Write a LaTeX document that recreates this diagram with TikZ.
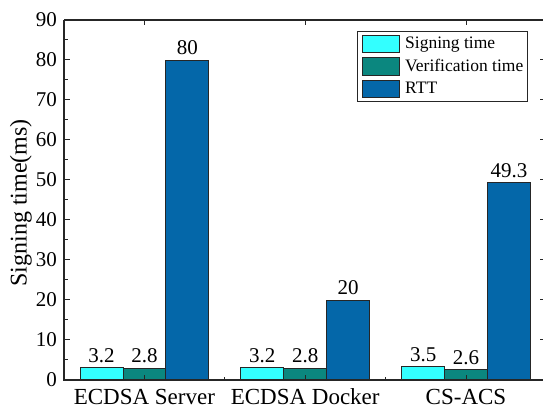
\documentclass[tikz,border=0pt]{standalone}
\usepackage{fontspec}
\setmainfont{Liberation Serif}
\definecolor{sig}{HTML}{33FFFF}
\definecolor{ver}{HTML}{0B877F}
\definecolor{rtt}{HTML}{0467A9}
\begin{document}
\begin{tikzpicture}[x=1pt,y=1pt,
  bar/.style={draw=black!85, line width=0.8pt},
  val/.style={font=\fontsize{21}{21}\selectfont, anchor=base, inner sep=0pt},
  ytl/.style={font=\fontsize{21}{21}\selectfont, anchor=east, inner sep=0pt},
  xtl/.style={font=\fontsize{23}{23}\selectfont, anchor=base, inner sep=0pt},
  legtxt/.style={font=\fontsize{17.5}{17.5}\selectfont, anchor=base west, inner sep=0pt},
  axisline/.style={line width=1.2pt, black!85},
  tickline/.style={line width=1pt, black!85}]
\useasboundingbox (0,0) rectangle (543,409);
\clip (0,0) rectangle (543,409);
% bars group 1
\draw[bar, fill=sig] (80.08,29) rectangle (122.96,41.8);
\draw[bar, fill=ver] (122.96,29) rectangle (165.84,40.2);
\draw[bar, fill=rtt] (165.84,29) rectangle (208.72,349);
% bars group 2
\draw[bar, fill=sig] (240.88,29) rectangle (283.76,41.8);
\draw[bar, fill=ver] (283.76,29) rectangle (326.64,40.2);
\draw[bar, fill=rtt] (326.64,29) rectangle (369.52,109);
% bars group 3
\draw[bar, fill=sig] (401.68,29) rectangle (444.56,43);
\draw[bar, fill=ver] (444.56,29) rectangle (487.44,39.4);
\draw[bar, fill=rtt] (487.44,29) rectangle (530.32,226.2);
% value labels
\node[val] (v11) at (101.52,46.5) {3.2};
\node[val] (v12) at (144.4,46.5) {2.8};
\node[val] (v13) at (187.28,354) {80};
\node[val] (v21) at (262.32,46.5) {3.2};
\node[val] (v22) at (305.2,46.5) {2.8};
\node[val] (v23) at (348.08,114) {20};
\node[val] (v31) at (423.12,47.7) {3.5};
\node[val] (v32) at (466,44.1) {2.6};
\node[val] (v33) at (508.88,231) {49.3};
% frame
\draw[axisline] (64,389) -- (546.4,389);
\draw[axisline] (64,29) -- (64,389);
\draw[axisline] (546.4,29) -- (546.4,389);
\draw[line width=1.6pt, black!85] (63.2,29) -- (546.4,29);
% y ticks and labels
\foreach \v in {0,10,...,90} {
  \draw[tickline] (64,29+4*\v) -- (70,29+4*\v);
  \draw[tickline] (546.4,29+4*\v) -- (540.4,29+4*\v);
  \node[ytl] (yl\v) at (57,29+4*\v) {\v};
}
\foreach \v in {5,15,...,85} {
  \draw[tickline] (64,29+4*\v) -- (67.5,29+4*\v);
  \draw[tickline] (546.4,29+4*\v) -- (542.9,29+4*\v);
}
% x ticks
\foreach \x in {144.4,305.2,466} {
  \draw[tickline] (\x,29) -- (\x,34);
  \draw[tickline] (\x,389) -- (\x,384);
}
\foreach \x in {224.8,385.6} {
  \draw[tickline] (\x,29) -- (\x,32);
}
% x labels
\node[xtl] (x1) at (144.4,4) {ECDSA Server};
\node[xtl] (x2) at (305.2,4) {ECDSA Docker};
\node[xtl] (x3) at (466,4) {CS-ACS};
% y label
\node[font=\fontsize{24}{24}\selectfont, rotate=90, inner sep=0pt] (ylab) at (21,206) {Signing time(ms)};
% legend
\draw[line width=0.8pt, black!85, fill=white] (357,308) rectangle (527,378);
\draw[bar, fill=sig] (362,357) rectangle (399,374);
\draw[bar, fill=ver] (362,334) rectangle (399,351.3);
\draw[bar, fill=rtt] (362,311.3) rectangle (399,329);
\node[legtxt] (l1) at (405,360.5) {Signing time};
\node[legtxt] (l2) at (405,337.6) {Verification time};
\node[legtxt] (l3) at (405,315.2) {RTT};
\end{tikzpicture}
\end{document}
